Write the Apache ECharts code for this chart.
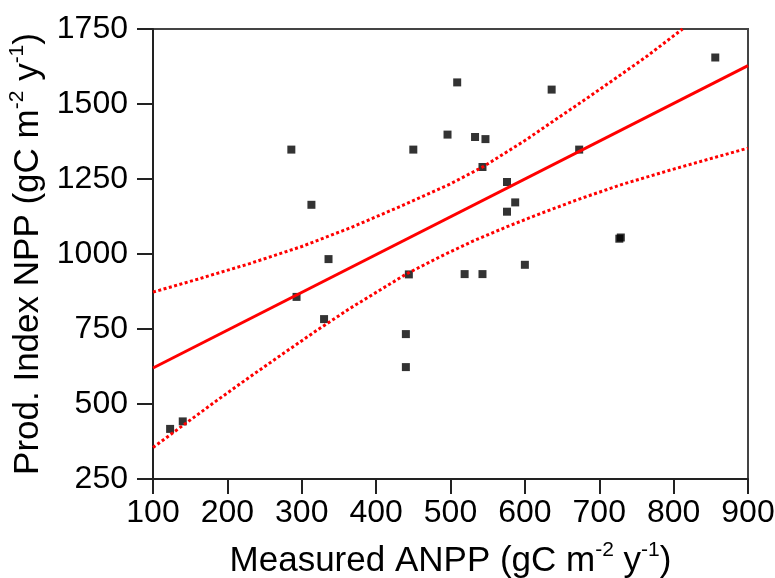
<!DOCTYPE html>
<html>
<head>
<meta charset="utf-8">
<script src="https://cdn.jsdelivr.net/npm/echarts@6/dist/echarts.min.js"></script>
<style>
html,body{margin:0;padding:0;background:#fff;}
#chart{width:775px;height:578px;}
</style>
</head>
<body>
<div id="chart"></div>
<script>
// Measured ANPP (x) vs Productivity Index NPP (y)
const anpp = [123, 140, 293, 330, 336, 444, 440, 440, 286, 313, 450, 496, 509, 533, 547, 543, 636, 576, 587, 576, 673, 856, 727, 729, 519, 543, 600];
const npp  = [417, 442, 857, 783, 983, 932, 733, 623, 1348, 1164, 1348, 1398, 1572, 1390, 1383, 1290, 1548, 1240, 1172, 1141, 1348, 1655, 1051, 1055, 933, 933, 964];

// Regression line end points
const fitX = [100, 900];
const fitY = [620, 1628];

// 95% confidence band, upper curve
const upperX = [100, 160, 230, 300, 365, 432, 500, 544, 600, 640, 674, 724, 764, 812];
const upperY = [873, 916, 968, 1025, 1087, 1158, 1234, 1291, 1378, 1446, 1503, 1589, 1659, 1750];

// 95% confidence band, lower curve
const lowerX = [100, 141, 186, 230, 275, 320, 365, 441, 486, 531, 576, 620, 674, 732, 800, 900];
const lowerY = [355, 430, 512, 590, 668, 745, 819, 934, 991, 1044, 1091, 1134, 1184, 1233, 1283, 1353];

const xTitle = ['Measured ANPP (gC m', '-2', ' y', '-1', ')'];
const yTitle = ['Prod. Index NPP (gC m', '-2', ' y', '-1', ')'];

const FONT = '"Liberation Sans", Arial, Helvetica, sans-serif';
const zip = (a, b) => a.map((v, i) => [v, b[i]]);
const richName = parts => parts.map((p, i) => (i % 2 === 0 ? '{t|' : '{s|') + p + '}').join('');
const richStyle = {
  t: { fontSize: 35, fontFamily: FONT, color: '#000', lineHeight: 40, verticalAlign: 'bottom' },
  s: { fontSize: 21, fontFamily: FONT, color: '#000', lineHeight: 40, verticalAlign: 'top', padding: [1, 0, 0, 0] }
};

const chart = echarts.init(document.getElementById('chart'), null, { renderer: 'canvas' });
chart.setOption({
  animation: false,
  backgroundColor: '#fff',
  grid: {
    left: 153, right: 27, top: 29, bottom: 99, containLabel: false, outerBoundsMode: 'none',
    show: true, borderColor: '#444', borderWidth: 2, backgroundColor: 'transparent'
  },
  xAxis: {
    type: 'value', min: 100, max: 900, interval: 100,
    axisLine: { show: true, onZero: false, lineStyle: { color: '#222', width: 2 } },
    axisTick: { show: true, inside: false, length: 15, lineStyle: { color: '#222', width: 2 } },
    axisLabel: { margin: 18, fontSize: 32, fontFamily: FONT, color: '#000', formatter: v => String(v) },
    splitLine: { show: false },
    name: richName(xTitle), nameLocation: 'middle', nameGap: 60,
    nameTextStyle: { rich: richStyle }
  },
  yAxis: {
    type: 'value', min: 250, max: 1750, interval: 250,
    axisLine: { show: true, onZero: false, lineStyle: { color: '#222', width: 2 } },
    axisTick: { show: true, inside: false, length: 16, lineStyle: { color: '#222', width: 2 } },
    axisLabel: { margin: 25, fontSize: 32, fontFamily: FONT, color: '#000', formatter: v => String(v) },
    splitLine: { show: false },
    name: richName(yTitle), nameLocation: 'middle', nameGap: 100, nameRotate: 90,
    nameTextStyle: { rich: richStyle }
  },
  series: [
    {
      type: 'scatter', data: zip(anpp, npp), symbol: 'rect', symbolSize: 8,
      itemStyle: { color: '#000' }, z: 2
    },
    {
      type: 'line', data: zip(fitX, fitY), showSymbol: false, symbol: 'none',
      lineStyle: { color: '#ff0000', width: 3 }, z: 3, clip: true
    },
    {
      type: 'line', data: zip(upperX, upperY), showSymbol: false, symbol: 'none', smooth: false,
      lineStyle: { color: '#ff0000', width: 3, type: [3, 2.5] }, z: 3, clip: true
    },
    {
      type: 'line', data: zip(lowerX, lowerY), showSymbol: false, symbol: 'none', smooth: false,
      lineStyle: { color: '#ff0000', width: 3, type: [3, 2.5] }, z: 3, clip: true
    }
  ]
});
</script>
</body>
</html>
